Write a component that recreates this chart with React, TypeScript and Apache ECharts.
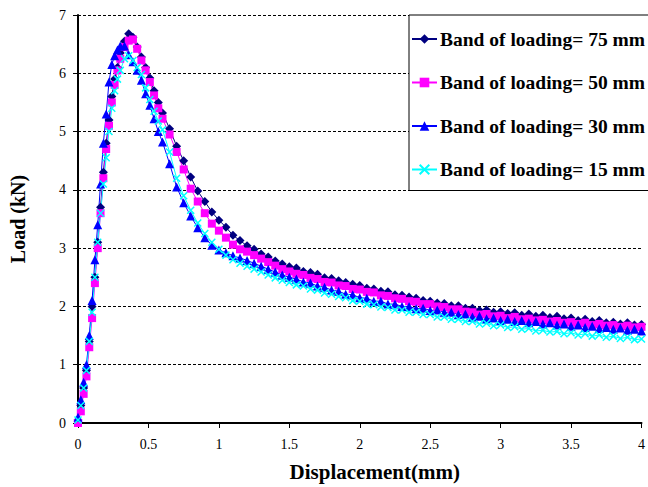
import React, { useEffect, useRef } from "react";
import * as echarts from "echarts";

const X = [
  0, 0.02, 0.04, 0.06, 0.08, 0.1, 0.12, 0.14, 0.16, 0.18, 0.2, 0.22, 0.24, 0.26, 0.28, 0.3,
  0.33, 0.36, 0.39, 0.42, 0.45, 0.48, 0.51, 0.54, 0.57, 0.6,
  0.65, 0.7, 0.75, 0.8, 0.85, 0.9, 0.95, 1.0, 1.05, 1.1, 1.15, 1.2, 1.25, 1.3, 1.35, 1.4, 1.45,
  1.5, 1.55, 1.6, 1.65, 1.7, 1.75, 1.8, 1.85, 1.9, 1.95, 2.0, 2.05, 2.1, 2.15, 2.2, 2.25, 2.3,
  2.35, 2.4, 2.45, 2.5, 2.55, 2.6, 2.65, 2.7, 2.75, 2.8, 2.85, 2.9, 2.95, 3.0, 3.05, 3.1, 3.15,
  3.2, 3.25, 3.3, 3.35, 3.4, 3.45, 3.5, 3.55, 3.6, 3.65, 3.7, 3.75, 3.8, 3.85, 3.9, 3.95, 4.0,
];

const Y75 = [
  0.05, 0.3, 0.6, 0.9, 1.4, 2.0, 2.5, 3.1, 3.7, 4.3, 4.8, 5.2, 5.6, 5.9, 6.1, 6.35,
  6.55, 6.68, 6.62, 6.45, 6.28, 6.1, 5.92, 5.7, 5.5, 5.32,
  5.05, 4.75, 4.5, 4.22, 3.98, 3.8, 3.62, 3.48, 3.36, 3.22, 3.13, 3.04, 2.98, 2.9, 2.85, 2.78, 2.73,
  2.68, 2.66, 2.6, 2.58, 2.55, 2.49, 2.48, 2.44, 2.41, 2.38, 2.36, 2.31, 2.3, 2.26, 2.25, 2.2, 2.19,
  2.16, 2.14, 2.1, 2.09, 2.06, 2.05, 2.01, 2.01, 1.97, 1.97, 1.93, 1.94, 1.9, 1.91, 1.88, 1.89, 1.85,
  1.87, 1.83, 1.85, 1.81, 1.83, 1.79, 1.8, 1.76, 1.78, 1.74, 1.76, 1.72, 1.73, 1.7, 1.72, 1.68, 1.69,
];

const Y50 = [
  0.0, 0.2, 0.5, 0.8, 1.3, 1.8, 2.4, 3.0, 3.6, 4.2, 4.7, 5.1, 5.5, 5.8, 6.05, 6.25,
  6.45, 6.56, 6.58, 6.42, 6.22, 6.05, 5.85, 5.62, 5.4, 5.22,
  4.95, 4.65, 4.35, 4.02, 3.8, 3.6, 3.42, 3.3, 3.18, 3.06, 2.98, 2.94, 2.88, 2.82, 2.76, 2.7, 2.64,
  2.6, 2.56, 2.54, 2.49, 2.47, 2.42, 2.41, 2.36, 2.35, 2.3, 2.29, 2.25, 2.24, 2.19, 2.18, 2.14, 2.13,
  2.09, 2.08, 2.04, 2.04, 2.0, 1.99, 1.95, 1.95, 1.91, 1.9, 1.86, 1.87, 1.83, 1.84, 1.8, 1.82, 1.78,
  1.79, 1.76, 1.77, 1.74, 1.75, 1.72, 1.73, 1.7, 1.72, 1.68, 1.7, 1.67, 1.68, 1.65, 1.67, 1.64, 1.65,
];

const Y30 = [
  0.1, 0.4, 0.7, 1.0, 1.5, 2.1, 2.8, 3.4, 4.1, 4.8, 5.3, 5.85, 6.15, 6.3, 6.4, 6.47,
  6.47, 6.32, 6.2, 6.05, 5.88, 5.65, 5.45, 5.22, 5.0, 4.82,
  4.45, 4.05, 3.78, 3.55, 3.35, 3.18, 3.05, 2.97, 2.92, 2.87, 2.83, 2.79, 2.74, 2.69, 2.64, 2.59, 2.54,
  2.5, 2.47, 2.42, 2.4, 2.35, 2.33, 2.28, 2.26, 2.21, 2.2, 2.15, 2.14, 2.09, 2.09, 2.04, 2.04, 2.0,
  2.0, 1.96, 1.97, 1.93, 1.94, 1.9, 1.9, 1.86, 1.87, 1.82, 1.83, 1.79, 1.8, 1.76, 1.78, 1.74, 1.76,
  1.72, 1.74, 1.7, 1.72, 1.68, 1.7, 1.66, 1.68, 1.64, 1.66, 1.62, 1.64, 1.61, 1.63, 1.59, 1.61, 1.58,
];

const Y15 = [
  0.05, 0.3, 0.6, 0.9, 1.4, 1.9, 2.5, 3.1, 3.6, 4.1, 4.55, 5.0, 5.4, 5.7, 5.9, 6.05,
  6.25, 6.3, 6.22, 6.1, 5.98, 5.75, 5.55, 5.35, 5.18, 5.03,
  4.65, 4.2, 3.9, 3.65, 3.43, 3.25, 3.1, 2.98, 2.88, 2.8, 2.74, 2.69, 2.64, 2.59, 2.54, 2.49, 2.45,
  2.41, 2.37, 2.35, 2.3, 2.28, 2.23, 2.21, 2.17, 2.15, 2.1, 2.09, 2.04, 2.03, 1.99, 1.98, 1.94, 1.94,
  1.9, 1.9, 1.86, 1.86, 1.82, 1.82, 1.78, 1.78, 1.74, 1.74, 1.7, 1.71, 1.67, 1.68, 1.64, 1.65, 1.61,
  1.62, 1.58, 1.59, 1.56, 1.57, 1.53, 1.55, 1.51, 1.53, 1.49, 1.51, 1.47, 1.49, 1.45, 1.47, 1.43, 1.44,
];

const NAMES = [
  "Band of loading= 75 mm",
  "Band of loading= 50 mm",
  "Band of loading= 30 mm",
  "Band of loading= 15 mm",
];

const SERIF = "Liberation Serif";

export default function App() {
  const ref = useRef<HTMLDivElement>(null);

  useEffect(() => {
    if (!ref.current) return;
    const chart = echarts.init(ref.current, undefined, { renderer: "svg" });
    const mk = (ys: number[]) => X.map((x, i) => [x, ys[i]]);
    const cross = "path://M0,0L10,10M10,0L0,10";

    const series: any[] = [
      {
        name: NAMES[0],
        type: "line",
        data: mk(Y75),
        symbol: "diamond",
        symbolSize: 9,
        showAllSymbol: true,
        itemStyle: { color: "#000080" },
        lineStyle: { color: "#000080", width: 1 },
      },
      {
        name: NAMES[1],
        type: "line",
        data: mk(Y50),
        symbol: "rect",
        symbolSize: 8,
        showAllSymbol: true,
        itemStyle: { color: "#FF00FF" },
        lineStyle: { color: "#FF00FF", width: 1 },
      },
      {
        name: NAMES[2],
        type: "line",
        data: mk(Y30),
        symbol: "triangle",
        symbolSize: 9,
        showAllSymbol: true,
        itemStyle: { color: "#0000FF" },
        lineStyle: { color: "#0000FF", width: 1 },
      },
      {
        name: NAMES[3],
        type: "line",
        data: mk(Y15),
        symbol: cross,
        symbolSize: 7,
        showAllSymbol: true,
        itemStyle: { color: "#00FFFF", borderColor: "#00FFFF", borderWidth: 1.5 },
        lineStyle: { color: "#00FFFF", width: 1 },
      },
    ];

    chart.setOption({
      animation: false,
      backgroundColor: "#ffffff",
      grid: { left: 75, top: 15, right: -1, bottom: 59, containLabel: false },
      legend: {
        orient: "vertical",
        left: 409,
        top: 15,
        data: NAMES,
        backgroundColor: "#ffffff",
        borderColor: "#000000",
        borderWidth: 1,
        borderRadius: 0,
        padding: [14, 12, 11, 2],
        itemWidth: 25,
        itemHeight: 12,
        itemGap: 23.5,
        textStyle: {
          fontFamily: SERIF,
          fontWeight: "bold",
          fontSize: 19.5,
          lineHeight: 20,
          color: "#000000",
          padding: [0, 0, 0, -2],
        },
      },
      xAxis: {
        type: "value",
        min: 0,
        max: 4,
        interval: 0.5,
        name: "Displacement(mm)",
        nameLocation: "middle",
        nameGap: 38,
        nameTextStyle: {
          fontFamily: SERIF,
          fontWeight: "bold",
          fontSize: 21,
          color: "#000000",
          padding: [0, 0, 0, 30],
        },
        axisLine: { show: true, lineStyle: { color: "#000000", width: 2 } },
        axisTick: { show: true, length: 5, inside: false, lineStyle: { color: "#000000", width: 1 } },
        axisLabel: { fontFamily: SERIF, fontSize: 14, color: "#000000", margin: 14 },
        splitLine: { show: false },
      },
      yAxis: {
        type: "value",
        min: 0,
        max: 7,
        interval: 1,
        name: "Load (kN)",
        nameLocation: "middle",
        nameGap: 50,
        nameRotate: 90,
        nameTextStyle: {
          fontFamily: SERIF,
          fontWeight: "bold",
          fontSize: 20,
          color: "#000000",
        },
        axisLine: { show: true, lineStyle: { color: "#000000", width: 2 } },
        axisTick: { show: true, length: 5, inside: false, lineStyle: { color: "#000000", width: 1 } },
        axisLabel: { fontFamily: SERIF, fontSize: 14, color: "#000000", margin: 12 },
        splitLine: {
          show: true,
          lineStyle: { color: "#000000", width: 1, type: [3, 2] },
        },
      },
      series,
    });

    return () => chart.dispose();
  }, []);

  return (
    <div
      ref={ref}
      style={{ position: "fixed", left: 0, top: 0, width: 648, height: 487, background: "#fff" }}
    />
  );
}
